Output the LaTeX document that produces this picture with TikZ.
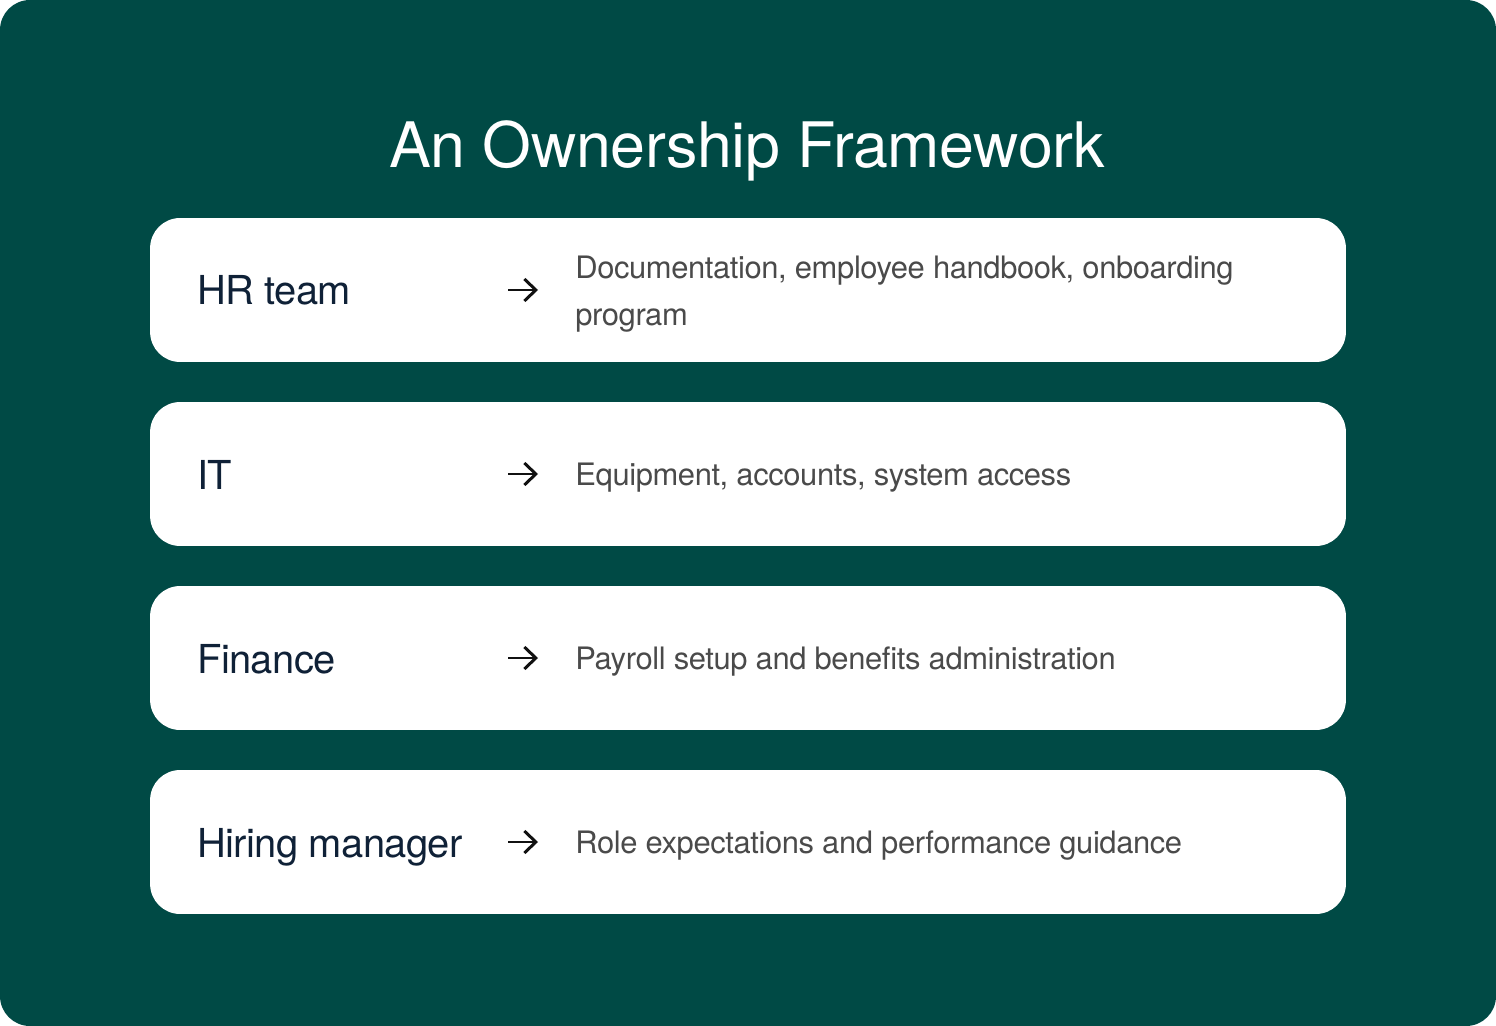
\documentclass[tikz,border=0pt]{standalone}
\usepackage{xcolor}
\usepackage{fontspec}
\setmainfont{TeX Gyre Heros}
\newfontfamily\titlefont[LetterSpace=-0.5]{TeX Gyre Heros}
\newfontfamily\ownerfont[LetterSpace=-1.5]{TeX Gyre Heros}
\newfontfamily\taskfont[LetterSpace=-1.3]{TeX Gyre Heros}
\usepackage{tikz}
\usetikzlibrary{arrows.meta, positioning}
\definecolor{panelgreen}{HTML}{004A45}
\definecolor{ownernavy}{HTML}{0F2137}
\definecolor{taskgray}{HTML}{4A4A4A}
\definecolor{arrowblack}{HTML}{111111}

\begin{document}
\begin{tikzpicture}
  [
    x=0.02cm, y=-0.02cm,
    Card/.style={rectangle, fill=white, rounded corners=0.6cm, minimum width=23.92cm, minimum height=2.88cm, inner sep=0pt},
    Title/.style={anchor=base, text=white, inner sep=0pt, font=\titlefont\fontsize{35.7pt}{40pt}\selectfont},
    Owner/.style={anchor=base west, text=ownernavy, inner sep=0pt, font=\ownerfont\fontsize{22.7pt}{27pt}\selectfont},
    Task/.style={anchor=west, text=taskgray, inner sep=0pt, align=left, font=\taskfont\fontsize{17.6pt}{26.6pt}\selectfont},
    Arrow/.style={draw=arrowblack, line width=1.7pt, -{Straight Barb[length=2.3mm, width=4.4mm]}}
  ]
  % Background
  \fill[panelgreen, rounded corners=0.6cm] (0,0) rectangle (1496,1026);

  % Nodes
  \node[Title] (title) at (747,168) {An Ownership Framework};

  \foreach \row/\y/\who/\what in {
      hr/290/HR team/{Documentation, employee handbook, onboarding\\program},
      it/474/IT/{Equipment, accounts, system access},
      fin/658/Finance/{Payroll setup and benefits administration},
      mgr/842/Hiring manager/{Role expectations and performance guidance}}
  {
    \node[Card] (card-\row) at (748,\y) {};
    \node[Owner] (who-\row) at (197,\y+15) {\who};
    \node[Task] (what-\row) at (575,\y+4) {\what};
    \coordinate (tail-\row) at (508,\y);
    \coordinate (head-\row) at (538,\y);

    % Lines
    \path [Arrow] (tail-\row) -- (head-\row);
  }

\end{tikzpicture}
\end{document}
